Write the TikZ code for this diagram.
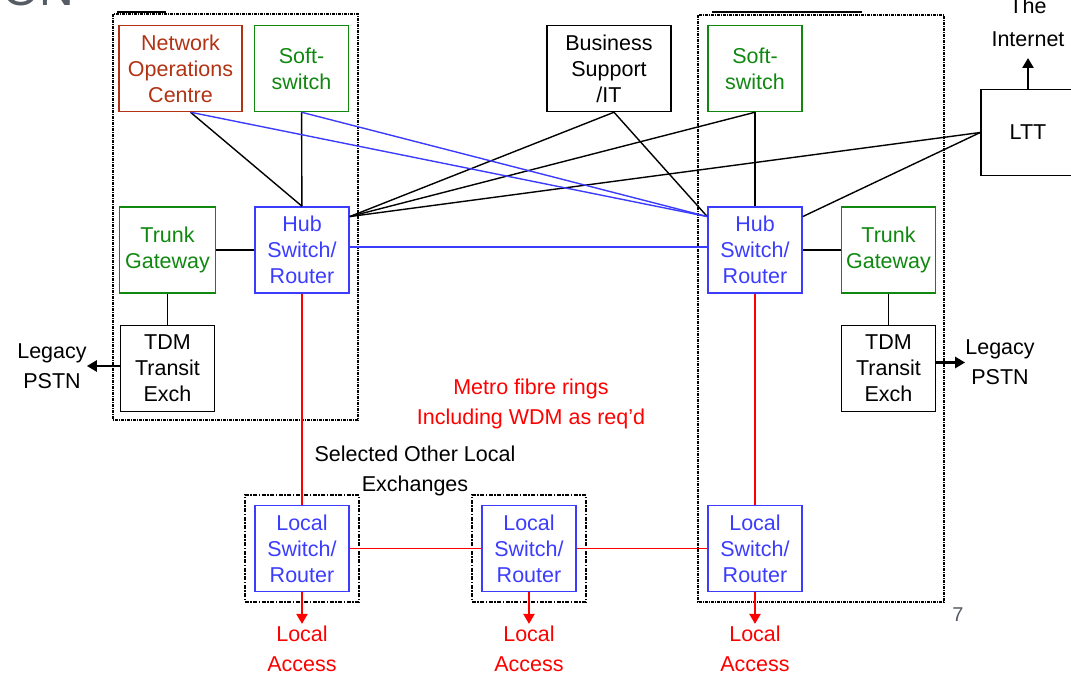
\documentclass[tikz,border=0pt]{standalone}
\usepackage{fontspec}
\setmainfont{Liberation Sans}
\usetikzlibrary{positioning, arrows.meta, fit}

\definecolor{nocred}{RGB}{178,50,20}
\definecolor{ssgreen}{RGB}{16,136,16}
\definecolor{netblue}{RGB}{60,60,255}
\definecolor{slidegray}{RGB}{85,92,100}

\tikzset{
  box/.style={draw, line width=1.5pt, minimum width=94pt, minimum height=86pt,
    inner sep=1pt, align=center, font=\fontsize{21.5}{26}\selectfont},
  redbox/.style={box, draw=nocred, text=nocred},
  greenbox/.style={box, draw=ssgreen, text=ssgreen},
  bluebox/.style={box, draw=netblue, text=netblue},
  lbl/.style={align=center, inner sep=0pt, font=\fontsize{21.5}{30}\selectfont},
  areaframe/.style={draw, line width=1.1pt, dash pattern=on 3pt off 1pt on 1pt off 1pt},
  exframe/.style={draw, line width=1.8pt, dash pattern=on 4pt off 1.5pt on 1.5pt off 1.5pt},
  link/.style={line width=1.4pt},
  ring/.style={link, red},
  bigarrow/.style={line width=2.8pt, -{Triangle[length=10pt,width=11pt]}},
  accarrow/.style={line width=2.2pt, red, -{Triangle[length=10pt,width=11pt]}, shorten >=2pt},
}

\begin{document}
\begin{tikzpicture}[x=1pt, y=-1pt, node distance=38pt]
  \useasboundingbox (0,0) rectangle (1071,674);

  % slide leftovers
  \node[slidegray, font=\fontsize{48}{50}\selectfont, anchor=base west, inner sep=0pt] (title) at (2,6) {ON};
  \node[slidegray, font=\fontsize{20}{24}\selectfont] (pgno) at (958,615) {7};
  \draw[line width=2pt] (117,12) -- (166,12);
  \draw[line width=2pt] (712,12) -- (862,12);

  % site A
  \node[redbox, minimum width=123pt] (noc) at (180.5,68.5) {Network\\Operations\\Centre};
  \node[greenbox] (softA) at (301.5,68.5) {Soft-\\switch};
  \node[bluebox] (hubA) at (302,250) {Hub\\Switch/\\Router};
  \node[greenbox, minimum width=96pt] (trunkA) [left=of hubA] {Trunk\\Gateway};
  \node[box] (tdmA) [below=31pt of trunkA] {TDM\\Transit\\Exch};
  \node[lbl] (pstnA) at (52,366) {Legacy\\PSTN};

  % site B
  \node[greenbox] (softB) at (755,68.5) {Soft-\\switch};
  \node[bluebox] (hubB) at (755,250) {Hub\\Switch/\\Router};
  \node[greenbox] (trunkB) [right=of hubB] {Trunk\\Gateway};
  \node[box] (tdmB) [below=31pt of trunkB] {TDM\\Transit\\Exch};
  \node[lbl] (pstnB) at (1000,362.5) {Legacy\\PSTN};

  % shared systems
  \node[box, minimum width=124pt] (biz) at (609,68.5) {Business\\Support\\/IT};
  \node[box] (ltt) at (1028,132.5) {LTT};
  \node[lbl, anchor=south, font=\fontsize{21.5}{33}\selectfont] (net) at (1028,47) {The\\Internet};

  % local exchanges
  \node[bluebox] (locA) at (302,548.5) {Local\\Switch/\\Router};
  \node[bluebox] (locM) at (529,548.5) {Local\\Switch/\\Router};
  \node[bluebox] (locB) at (755,548.5) {Local\\Switch/\\Router};
  \node[lbl, red] (accA) at (302,649) {Local\\Access};
  \node[lbl, red] (accM) at (529,649) {Local\\Access};
  \node[lbl, red] (accB) at (755,649) {Local\\Access};

  \node[lbl, red] (metro) at (531,404) {Metro fibre rings\\Including WDM as req'd};
  \node[lbl] (sel) at (415,471) {Selected Other Local\\Exchanges};

  % site boundaries
  \draw[areaframe] (113,14) rectangle (358,420);
  \draw[areaframe] (698,15) rectangle (944,602);
  \node[exframe, fit=(locA), inner sep=9.5pt] (exA) {};
  \node[exframe, fit=(locM), inner sep=9.5pt] (exM) {};

  % signalling / management links
  \path[link]
    % from site A
    ([xshift=10pt]noc.south) edge (hubA.north)
    (softA) edge (hubA)
    (trunkA) edge (hubA)
    (trunkA) edge (tdmA)
    % from business support
    ([xshift=5pt]biz.south) edge (hubA.35)
    ([xshift=5pt]biz.south) edge (hubB.145)
    % from site B
    (softB.south) edge (hubA.35)
    (softB) edge (hubB)
    (hubB) edge (trunkB)
    (trunkB) edge (tdmB)
    % from LTT
    (ltt.west) edge (hubA.35)
    (ltt.west) edge (hubB.35);

  % IP core
  \path[link, netblue]
    ([xshift=10pt]noc.south) edge (hubB.145)
    (softA.south) edge (hubB.145)
    ([yshift=3pt]hubA.east) edge ([yshift=3pt]hubB.west);

  % metro fibre
  \path[ring]
    (hubA) edge (locA)
    (hubB) edge (locB)
    (locA) edge (locM)
    (locM) edge (locB);

  % external feeds
  \draw[bigarrow] (tdmA.west |- pstnA.east) -- (pstnA.east);
  \draw[bigarrow] (tdmB.east |- pstnB.west) -- (pstnB.west);
  \draw[bigarrow, shorten >=11pt] (ltt) -- (net);
  \draw[accarrow] (locA) -- (accA);
  \draw[accarrow] (locM) -- (accM);
  \draw[accarrow] (locB) -- (accB);
\end{tikzpicture}
\end{document}
